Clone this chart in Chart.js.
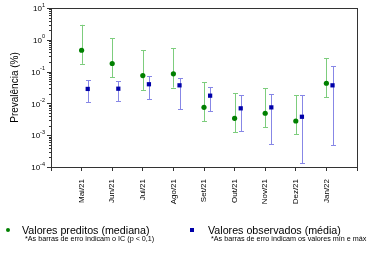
<!DOCTYPE html>
<html>
<head>
<meta charset="utf-8">
<script src="https://cdn.jsdelivr.net/npm/chart.js@4/dist/chart.umd.min.js"></script>
<style>
  body { margin: 0; background: #fff; }
  #wrap { position: relative; width: 376px; height: 253px; font-family: "Liberation Sans", Arial, sans-serif; color: #000; }
  canvas { position: absolute; left: 0; top: 0; }
  .leg { position: absolute; font-size: 10.7px; line-height: 12px; white-space: nowrap; }
  .nota { position: absolute; font-size: 7.2px; line-height: 8px; white-space: nowrap; }
  .mk { position: absolute; width: 4px; height: 4px; }
</style>
</head>
<body>
<div id="wrap">
  <canvas id="grafico" width="376" height="253"></canvas>
  <div class="mk" style="left:6px; top:228px; background:#008000; border-radius:50%;"></div>
  <div class="leg" style="left:22px; top:224px;">Valores preditos (mediana)</div>
  <div class="nota" style="left:25px; top:235px;">*As barras de erro indicam o IC (p &lt; 0,1)</div>
  <div class="mk" style="left:190px; top:228px; background:#0000a8;"></div>
  <div class="leg" style="left:208px; top:224px;">Valores observados (média)</div>
  <div class="nota" style="left:211px; top:235px;">*As barras de erro indicam os valores mín e máx</div>
</div>
<script>
const meses = ['Mai/21', 'Jun/21', 'Jul/21', 'Ago/21', 'Set/21', 'Out/21', 'Nov/21', 'Dez/21', 'Jan/22'];

// prevalência (%) - valores preditos
const preditoMediana = [0.47, 0.18, 0.075, 0.085, 0.0075, 0.0034, 0.0049, 0.0028, 0.043];
const preditoInf = [0.175, 0.066, 0.0265, 0.0315, 0.0027, 0.00123, 0.0018, 0.00106, 0.0156];
const preditoSup = [2.96, 1.13, 0.47, 0.545, 0.047, 0.021, 0.030, 0.018, 0.264];

// prevalência (%) - valores observados
const observadoMedia = [0.0285, 0.029, 0.040, 0.037, 0.0175, 0.0070, 0.0075, 0.0038, 0.037];
const observadoMin = [0.0108, 0.0117, 0.0134, 0.0065, 0.0056, 0.00132, 0.00052, 0.00013, 0.00048];
const observadoMax = [0.0535, 0.050, 0.0715, 0.062, 0.032, 0.018, 0.0194, 0.018, 0.148];

const expoentes = [-4, -3, -2, -1, 0, 1];

const fonte = '"Liberation Sans", Arial, sans-serif';

// barras de erro desenhadas com as escalas do grafico
const barrasErro = {
  id: 'barrasErro',
  beforeDatasetsDraw(chart) {
    const ctx = chart.ctx;
    const y = chart.scales.y;
    chart.data.datasets.forEach((ds, i) => {
      const meta = chart.getDatasetMeta(i);
      ctx.save();
      ctx.strokeStyle = ds.corBarra;
      ctx.lineWidth = 1;
      meta.data.forEach((pt, j) => {
        const x = Math.round(pt.x) + 0.5;
        const y1 = y.getPixelForValue(ds.inf[j]);
        const y2 = y.getPixelForValue(ds.sup[j]);
        ctx.beginPath();
        ctx.moveTo(x, y1); ctx.lineTo(x, y2);
        ctx.moveTo(x - 2.5, Math.round(y1) + 0.5); ctx.lineTo(x + 2.5, Math.round(y1) + 0.5);
        ctx.moveTo(x - 2.5, Math.round(y2) + 0.5); ctx.lineTo(x + 2.5, Math.round(y2) + 0.5);
        ctx.stroke();
      });
      ctx.restore();
    });
  }
};

// caixa e marcas do eixo y (10^n)
const eixoY = {
  id: 'eixoY',
  afterDraw(chart) {
    const ctx = chart.ctx;
    const a = chart.chartArea;
    const y = chart.scales.y;
    ctx.save();
    ctx.strokeStyle = '#333';
    ctx.lineWidth = 1;
    ctx.strokeRect(Math.round(a.left) + 0.5, Math.round(a.top) + 0.5, Math.round(a.right - a.left), Math.round(a.bottom - a.top));
    ctx.beginPath();
    expoentes.forEach(e => {
      const yy = Math.round(y.getPixelForValue(Math.pow(10, e))) + 0.5;
      ctx.moveTo(a.left - 4, yy); ctx.lineTo(a.left, yy);
      if (e < 1) {
        for (let k = 2; k <= 9; k++) {
          const ym = Math.round(y.getPixelForValue(k * Math.pow(10, e))) + 0.5;
          ctx.moveTo(a.left - 2, ym); ctx.lineTo(a.left, ym);
        }
      }
    });
    ctx.stroke();
    ctx.fillStyle = '#000';
    ctx.textBaseline = 'middle';
    expoentes.forEach(e => {
      const yy = y.getPixelForValue(Math.pow(10, e));
      const sup = String(e);
      ctx.font = '5.5px ' + fonte;
      const wSup = ctx.measureText(sup).width;
      ctx.textAlign = 'left';
      ctx.fillText(sup, a.left - 6 - wSup, yy - 3);
      ctx.font = '8px ' + fonte;
      ctx.textAlign = 'right';
      ctx.fillText('10', a.left - 6 - wSup, yy + 1);
    });
    ctx.restore();
  }
};

const ctx = document.getElementById('grafico').getContext('2d');

const grafico = new Chart(ctx, {
  type: 'scatter',
  data: {
    datasets: [{
      label: 'Valores preditos (mediana)',
      data: preditoMediana.map((v, i) => ({ x: i + 1, y: v })),
      inf: preditoInf,
      sup: preditoSup,
      corBarra: 'rgb(125, 205, 125)',
      backgroundColor: '#008000',
      borderColor: '#008000',
      pointStyle: 'circle',
      pointRadius: 2.6,
      borderWidth: 0
    }, {
      label: 'Valores observados (média)',
      data: observadoMedia.map((v, i) => ({ x: i + 1.2, y: v })),
      inf: observadoMin,
      sup: observadoMax,
      corBarra: 'rgb(135, 135, 230)',
      backgroundColor: '#0000a8',
      borderColor: '#0000a8',
      pointStyle: 'rect',
      pointRadius: 3,
      borderWidth: 0
    }]
  },
  options: {
    responsive: false,
    animation: false,
    layout: { padding: { left: 0, right: 19, top: 8, bottom: 0 } },
    plugins: {
      legend: { display: false },
      tooltip: { enabled: false }
    },
    scales: {
      x: {
        type: 'linear',
        min: 0,
        max: 10,
        afterFit: s => { s.height = 86; },
        border: { display: false },
        grid: { drawOnChartArea: false, tickLength: 4, color: '#333', tickColor: '#333' },
        ticks: {
          stepSize: 1,
          autoSkip: false,
          minRotation: 90,
          maxRotation: 90,
          padding: 8,
          color: '#000',
          font: { family: fonte, size: 8 },
          callback: v => meses[v - 1] || ''
        }
      },
      y: {
        type: 'logarithmic',
        min: 0.0001,
        max: 10,
        afterFit: s => { s.width = 51; },
        border: { display: false },
        grid: { display: false },
        ticks: { display: false },
        title: {
          display: true,
          text: 'Prevalência (%)',
          color: '#000',
          font: { family: fonte, size: 10 },
          padding: { top: 9, bottom: 0 }
        }
      }
    }
  },
  plugins: [barrasErro, eixoY]
});
</script>
</body>
</html>
